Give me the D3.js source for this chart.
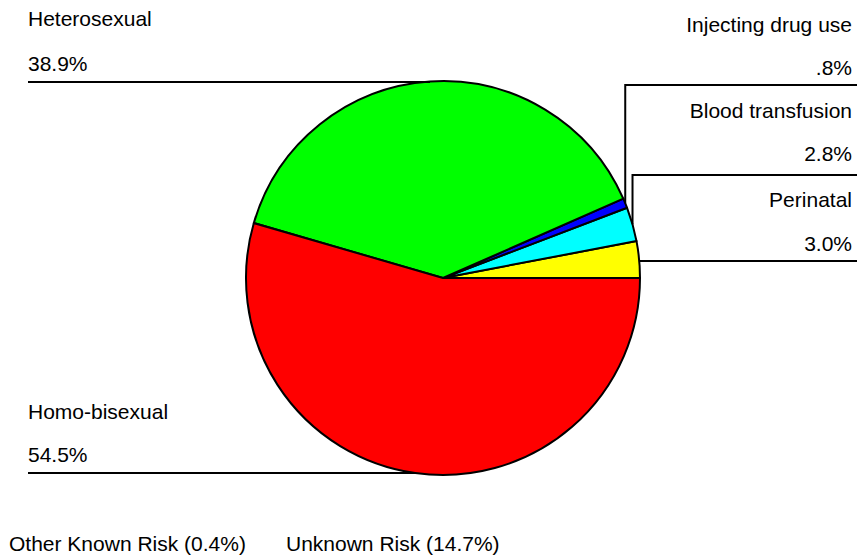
<!DOCTYPE html>
<html>
<head>
<meta charset="utf-8">
<script src="https://cdn.jsdelivr.net/npm/d3@7"></script>
<style>
  body { margin: 0; background: #fff; }
  text { font-family: "Liberation Sans", Arial, sans-serif; font-size: 21px; fill: #000; }
</style>
</head>
<body>
<svg id="chart" width="857" height="557"></svg>
<script>
// data, counterclockwise from 3 o'clock
const categories = ['Perinatal', 'Blood transfusion', 'Injecting drug use', 'Heterosexual', 'Homo-bisexual'];
const shares = [3.0, 2.8, 0.8, 38.9, 54.5];
const shareLabels = ['3.0%', '2.8%', '.8%', '38.9%', '54.5%'];
const colors = ['#ffff00', '#00ffff', '#0000ff', '#00ff00', '#ff0000'];
const footnotes = ['Other Known Risk (0.4%)', 'Unknown Risk (14.7%)'];

const width = 857, height = 557;
const cx = 443, cy = 278, radius = 197;

const svg = d3.select('#chart');
const g = svg.append('g').attr('transform', `translate(${cx},${cy})`);

const data = categories.map((c, i) => ({key: c, value: shares[i], label: shareLabels[i], color: colors[i]}));

const pie = d3.pie().value((d) => d.value).sort(null)
  .startAngle(Math.PI / 2).endAngle(Math.PI / 2 - 2 * Math.PI);
const arc = d3.arc().innerRadius(0).outerRadius(radius);
const pied = pie(data);

g.selectAll('path').data(pied).join('path')
  .attr('d', arc)
  .style('fill', (d) => d.data.color)
  .style('stroke', '#000')
  .style('stroke-width', 2)
  .style('stroke-linejoin', 'round');

// point on the rim at the middle of a slice (page coords)
function rim(d) {
  const a = (d.startAngle + d.endAngle) / 2;
  return [cx + radius * Math.sin(a), cy - radius * Math.cos(a)];
}

// label layout: side, name baseline, value baseline, leader y
const layout = {
  'Perinatal': {side: 'right', y1: 207, y2: 251, ly: 261},
  'Blood transfusion': {side: 'right', y1: 118, y2: 161, ly: 175},
  'Injecting drug use': {side: 'right', y1: 32, y2: 75, ly: 85},
  'Heterosexual': {side: 'left', y1: 26, y2: 71, ly: 82},
  'Homo-bisexual': {side: 'left', y1: 419, y2: 462, ly: 473}
};

const labels = svg.append('g');
pied.forEach((d) => {
  const L = layout[d.data.key];
  const p = rim(d);
  const left = L.side === 'left';
  const tx = left ? 28 : 852;
  labels.append('text').attr('x', tx).attr('y', L.y1)
    .attr('text-anchor', left ? 'start' : 'end').text(d.data.key);
  labels.append('text').attr('x', tx).attr('y', L.y2)
    .attr('text-anchor', left ? 'start' : 'end').text(d.data.label);
  let pts;
  if (left) {
    pts = [[28, L.ly], [p[0], L.ly]];
  } else if (Math.abs(p[1] - L.ly) < 4) {
    pts = [[p[0], L.ly], [width, L.ly]];
  } else {
    pts = [[p[0], p[1]], [p[0], L.ly], [width, L.ly]];
  }
  labels.append('path')
    .attr('d', d3.line()(pts))
    .style('fill', 'none')
    .style('stroke', '#000')
    .style('stroke-width', 2);
});

svg.append('text').attr('x', 9).attr('y', 551).text(footnotes[0]);
svg.append('text').attr('x', 286).attr('y', 551).text(footnotes[1]);
</script>
</body>
</html>
